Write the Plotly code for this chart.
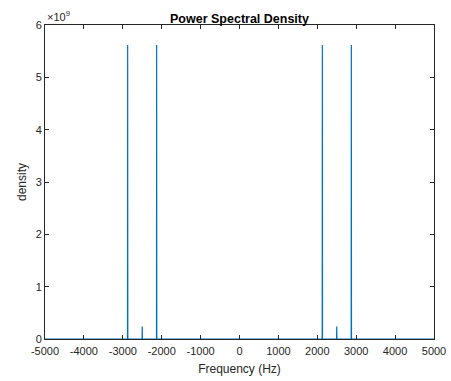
import plotly.graph_objects as go

# Data
peak_freqs_hz = [-2875, -2500, -2130, 2130, 2500, 2875]
peak_density = [5.62e9, 0.24e9, 5.62e9, 5.62e9, 0.24e9, 5.62e9]
freq_range = [-5000, 5000]
x_ticks = [-5000, -4000, -3000, -2000, -1000, 0, 1000, 2000, 3000, 4000, 5000]
x_tick_text = ["-5000", "-4000", "-3000", "-2000", "-1000", "0",
               "1000", "2000", "3000", "4000", "5000"]
y_ticks = [0, 1e9, 2e9, 3e9, 4e9, 5e9, 6e9]
y_tick_text = ["0", "1", "2", "3", "4", "5", "6"]

# Build the spectrum line: zero baseline with narrow peaks
half_width = 4
xs = [freq_range[0]]
ys = [0]
for f, d in zip(peak_freqs_hz, peak_density):
    xs += [f - half_width, f, f + half_width]
    ys += [0, d, 0]
xs.append(freq_range[1])
ys.append(0)

fig = go.Figure()
fig.add_trace(go.Scatter(x=xs, y=ys, mode="lines",
                         line=dict(color="#0072BD", width=1.2), showlegend=False))

axis_color = "#262626"
font_family = "Liberation Sans, Arial, Helvetica, sans-serif"

fig.update_layout(
    width=451, height=381,
    margin=dict(l=45, r=17, t=25, b=42, autoexpand=False),
    paper_bgcolor="white", plot_bgcolor="white",
    font=dict(family=font_family, size=11, color=axis_color),
    title=dict(text="<b>Power Spectral Density</b>", x=0.5, xref="paper",
               y=1, yref="paper", yanchor="bottom", pad=dict(b=2),
               font=dict(size=12.5, color="#000000")),
    xaxis=dict(range=freq_range, tickvals=x_ticks, ticktext=x_tick_text,
               ticks="inside", ticklen=4,
               tickcolor=axis_color, showline=True, linecolor=axis_color, linewidth=1,
               mirror="ticks", showgrid=False, zeroline=False, automargin=False,
               ticklabelstandoff=2,
               title=dict(text="Frequency (Hz)", font=dict(size=12), standoff=8)),
    yaxis=dict(range=[0, 6e9], tickvals=y_ticks, ticktext=y_tick_text,
               ticks="inside", ticklen=4, tickcolor=axis_color,
               showline=True, linecolor=axis_color, linewidth=1,
               mirror="ticks", showgrid=False, zeroline=False, automargin=False,
               title=dict(text="density", font=dict(size=12), standoff=6)),
    annotations=[dict(text="×10<sup>9</sup>", xref="x", yref="y",
                      x=freq_range[0], y=y_ticks[-1], xanchor="left", yanchor="bottom",
                      showarrow=False, font=dict(size=11, color=axis_color), yshift=0)],
)

fig.write_html("out.html")
